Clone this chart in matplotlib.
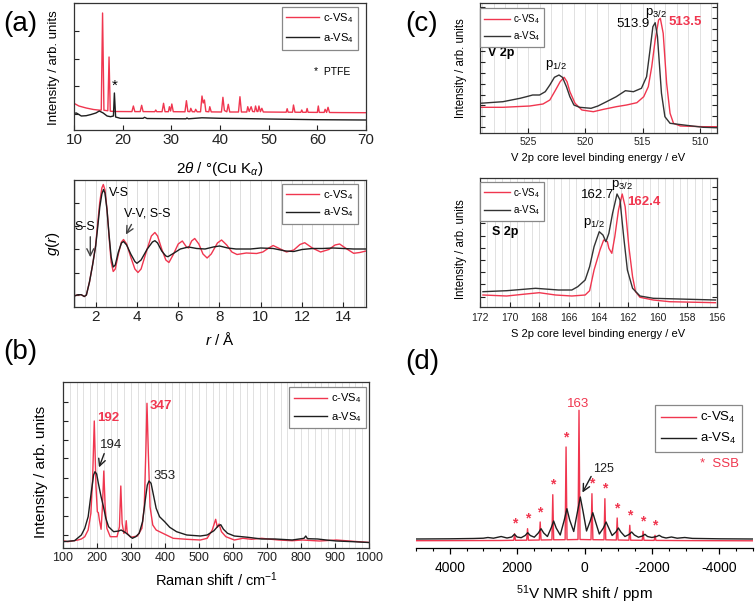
import matplotlib
matplotlib.use("Agg")
import matplotlib.pyplot as plt
import numpy as np

plt.rcParams['font.family'] = ['Liberation Sans', 'DejaVu Sans']
plt.rcParams['mathtext.fontset'] = 'custom'
plt.rcParams['mathtext.rm'] = 'Liberation Sans'
plt.rcParams['mathtext.it'] = 'Liberation Sans:italic'
plt.rcParams['mathtext.bf'] = 'Liberation Sans:bold'
plt.rcParams['axes.unicode_minus'] = False

RED = '#f0364f'
BLK = '#1e1e1e'
GRID = '#dcdcdc'
series_names = ['c-VS$_4$', 'a-VS$_4$']

# ---------------- (a) XRD ----------------
xrd_c_x = [10.0, 11.0, 12.5, 14.0, 15.3, 15.6, 15.87, 16.15, 16.95, 17.2, 17.45, 18.5, 21.9, 22.2, 22.5,
           23.6, 23.9, 24.2, 26.6, 26.8, 27.0, 28.1, 28.4, 28.7, 29.4, 29.6, 29.85, 30.1, 30.4, 32.8, 33.1,
           33.4, 33.8, 34.0, 34.3, 34.8, 35.0, 35.3, 36.0, 36.3, 36.55, 36.8, 37.1, 37.7, 37.9, 38.2, 40.3,
           40.6, 40.9, 41.4, 41.7, 42.0, 43.8, 44.1, 44.4, 45.5, 45.7, 46.0, 46.4, 46.7, 47.1, 47.3, 47.6,
           47.8, 48.0, 48.3, 48.6, 48.9, 53.6, 53.8, 54.0, 54.9, 55.1, 55.4, 56.6, 56.8, 57.0, 57.7, 57.9,
           58.1, 60.0, 60.2, 60.4, 61.4, 61.6, 61.9, 62.2, 62.5, 65.0, 70.0]
xrd_c_y = [26.7, 24.0, 22.0, 20.5, 19.8, 20.0, 117.0, 19.8, 19.2, 73.0, 18.8, 18.5, 18.4, 24.0, 18.4,
           18.4, 24.7, 18.4, 18.3, 20.0, 18.3, 18.3, 26.7, 18.3, 18.3, 23.3, 19.0, 26.0, 18.3, 18.2, 29.3,
           18.5, 18.3, 21.7, 18.3, 18.2, 20.7, 18.2, 18.2, 34.0, 27.0, 30.0, 18.5, 18.2, 23.3, 18.1, 18.0,
           32.7, 19.5, 18.2, 25.7, 18.0, 18.0, 33.3, 18.0, 18.0, 23.3, 18.5, 23.3, 18.5, 18.3, 24.0, 18.5,
           18.5, 24.0, 18.3, 21.7, 18.0, 17.8, 21.3, 17.8, 17.8, 25.0, 17.8, 17.7, 20.0, 17.7, 17.7, 21.5,
           17.7, 17.6, 24.0, 17.6, 17.6, 20.7, 17.6, 22.7, 17.5, 17.4, 17.3]
xrd_a_x = [10.0, 10.5, 11.5, 12.5, 13.5, 14.5, 15.2, 16.0, 16.8, 17.5, 18.1, 18.3, 18.55, 19.5, 24.2,
           24.5, 25.0, 30.0, 33.0, 33.2, 33.5, 36.3, 40.0, 44.0, 50.0, 60.0, 70.0]
xrd_a_y = [16.7, 17.0, 14.0, 14.3, 15.5, 17.0, 19.0, 17.0, 14.0, 13.3, 14.0, 37.0, 13.0, 11.7, 11.7,
           12.7, 11.5, 11.3, 11.2, 12.0, 11.2, 12.2, 11.7, 11.5, 11.0, 10.3, 10.0]
xrd_xticks = [10, 20, 30, 40, 50, 60, 70]

# ---------------- (a) PDF g(r) ----------------
gr_c_x = [1.0, 1.15, 1.3, 1.45, 1.55, 1.7, 1.85, 2.0, 2.1, 2.2, 2.3, 2.37, 2.45, 2.55, 2.65, 2.75, 2.85,
          2.95, 3.1, 3.25, 3.35, 3.5, 3.7, 3.9, 4.05, 4.2, 4.45, 4.7, 4.87, 5.0, 5.2, 5.4, 5.55, 5.75,
          6.0, 6.2, 6.4, 6.5, 6.65, 6.8, 7.0, 7.2, 7.4, 7.6, 7.9, 8.1, 8.35, 8.6, 8.85, 9.3, 9.8, 10.1,
          10.35, 10.6, 10.9, 11.25, 11.6, 11.9, 12.13, 12.5, 12.9, 13.3, 13.6, 13.82, 14.1, 14.5, 14.8, 15.1]
gr_c_y = [11.3, 12.3, 12.3, 10.5, 12.0, 25.0, 42.0, 62.0, 84.0, 105.0, 119.0, 122.5, 117.0, 98.0, 70.0,
          45.0, 35.5, 38.0, 53.0, 65.0, 67.5, 63.0, 50.0, 38.0, 34.5, 38.0, 55.0, 71.0, 74.5, 71.0, 58.0,
          47.0, 44.5, 52.0, 63.0, 66.0, 60.0, 59.0, 66.0, 68.5, 63.0, 53.0, 49.0, 53.0, 64.0, 67.0, 62.0,
          55.0, 52.5, 54.0, 53.5, 55.0, 58.5, 61.5, 58.5, 55.0, 57.0, 62.5, 64.3, 59.0, 55.0, 57.5, 62.0,
          63.0, 59.0, 53.7, 54.5, 56.0]
gr_a_x = [1.0, 1.15, 1.3, 1.45, 1.55, 1.7, 1.85, 2.0, 2.1, 2.2, 2.3, 2.38, 2.45, 2.55, 2.65, 2.75, 2.85,
          2.95, 3.1, 3.25, 3.35, 3.5, 3.7, 3.9, 4.0, 4.2, 4.5, 4.75, 4.87, 5.0, 5.2, 5.4, 5.5, 5.8, 6.1,
          6.5, 6.9, 7.3, 7.7, 8.0, 8.4, 8.8, 9.5, 10.0, 10.6, 11.2, 11.6, 12.0, 12.5, 13.0, 13.5, 14.0,
          14.5, 15.1]
gr_a_y = [11.3, 12.3, 12.3, 10.5, 12.0, 25.0, 42.0, 61.0, 80.0, 100.0, 113.0, 117.5, 114.0, 97.0, 72.0,
          50.0, 40.0, 42.0, 55.0, 64.0, 65.5, 62.0, 53.0, 45.5, 43.7, 47.0, 58.0, 65.0, 66.3, 64.0, 56.0,
          51.0, 50.3, 54.0, 58.0, 60.0, 58.5, 58.0, 60.0, 61.0, 59.0, 58.0, 58.0, 59.0, 58.5, 56.0, 55.5,
          57.5, 58.5, 58.5, 59.0, 58.5, 58.0, 58.0]
gr_xticks = [2, 4, 6, 8, 10, 12, 14]

# ---------------- (b) Raman ----------------
ram_c_x = [100, 114, 144, 154, 164, 174, 182, 187, 192, 197, 201, 204, 207, 212, 216, 220, 224, 229, 239,
           259, 266, 270, 274, 279, 283, 286, 289, 299, 319, 332, 339, 344, 347, 351, 356, 364, 374, 384,
           404, 424, 464, 504, 524, 539, 549, 554, 559, 566, 579, 604, 629, 654, 684, 704, 734, 774, 804,
           854, 904, 954, 1010]
ram_c_y = [7.3, 6.3, 8.0, 9.0, 11.3, 18.0, 34.7, 68.0, 127.0, 61.3, 36.3, 35.3, 28.0, 18.7, 41.3, 77.0,
           41.3, 19.7, 11.3, 11.3, 21.3, 62.0, 24.7, 14.7, 16.3, 27.3, 14.7, 10.7, 12.0, 19.7, 41.3, 101.3,
           144.7, 94.7, 41.3, 23.0, 18.0, 16.3, 13.0, 9.7, 8.7, 8.0, 9.7, 18.0, 28.7, 20.7, 24.0, 16.3, 11.3,
           8.0, 9.7, 8.7, 9.7, 9.0, 8.0, 7.3, 8.0, 7.0, 8.0, 6.7, 5.3]
ram_a_x = [100, 134, 154, 164, 174, 184, 190, 194, 199, 204, 212, 219, 226, 234, 249, 264, 271, 284, 296,
           304, 314, 324, 334, 342, 348, 353, 359, 366, 374, 384, 399, 414, 434, 464, 504, 524, 544, 556,
           564, 572, 584, 604, 644, 684, 724, 774, 809, 814, 819, 849, 874, 904, 954, 1010]
ram_a_y = [6.3, 7.3, 13.0, 19.7, 31.3, 58.0, 73.0, 76.3, 74.0, 64.7, 51.3, 41.3, 29.7, 21.3, 16.3, 17.0,
           18.0, 15.3, 12.0, 9.7, 11.3, 14.7, 26.3, 48.0, 63.0, 67.0, 64.7, 53.0, 39.7, 31.3, 26.3, 20.7,
           16.3, 13.0, 12.0, 13.0, 17.3, 22.0, 23.3, 18.7, 14.7, 12.0, 10.7, 9.0, 9.0, 8.0, 9.7, 12.0, 9.3,
           9.0, 8.0, 7.0, 6.3, 5.3]
ram_xticks = [100, 200, 300, 400, 500, 600, 700, 800, 900, 1000]

# ---------------- (c) XPS V 2p ----------------
v2p_c_x = [529.2, 527.2, 524.85, 523.7, 523.1, 522.6, 522.2, 521.85, 521.6, 521.35, 520.9, 520.3, 519.3,
           518.4, 517.3, 516.4, 515.5, 514.9, 514.5, 514.2, 513.9, 513.6, 513.45, 513.2, 512.9, 512.6,
           512.3, 511.7, 509.7, 508.5]
v2p_c_y = [25.7, 25.7, 27.0, 29.0, 33.0, 43.0, 51.3, 55.7, 51.3, 41.3, 29.7, 23.0, 21.3, 23.7, 26.3, 28.0,
           30.3, 36.3, 46.3, 66.3, 93.0, 113.0, 114.7, 99.7, 49.7, 19.7, 9.7, 7.0, 6.3, 6.3]
v2p_a_x = [529.2, 527.2, 525.7, 525.15, 524.6, 524.0, 523.5, 523.1, 522.7, 522.3, 522.0, 521.65, 521.35,
           521.0, 520.5, 519.5, 518.9, 518.15, 517.3, 516.5, 515.8, 515.1, 514.65, 514.35, 514.1, 513.9,
           513.7, 513.35, 513.05, 512.6, 511.4, 509.7, 508.5]
v2p_a_y = [29.7, 31.3, 34.7, 36.3, 38.0, 38.0, 41.3, 48.0, 55.7, 58.0, 55.7, 46.3, 36.3, 28.0, 25.7, 24.7,
           27.0, 31.3, 36.3, 42.3, 41.3, 44.7, 56.3, 83.0, 106.3, 110.3, 96.3, 39.7, 16.3, 9.7, 8.0, 5.7, 5.3]
v2p_xticks = [525, 520, 515, 510]

# ---------------- (c) XPS S 2p ----------------
s2p_c_x = [171.8, 170.2, 168.9, 168.0, 166.9, 165.8, 164.9, 164.6, 164.3, 163.9, 163.65, 163.4, 163.3,
           163.1, 162.9, 162.65, 162.4, 162.2, 161.95, 161.7, 161.5, 161.2, 160.3, 159.2, 156.1]
s2p_c_y = [12.0, 11.0, 13.0, 14.3, 12.0, 11.0, 12.0, 16.3, 37.0, 57.0, 67.0, 65.3, 58.7, 53.7, 70.3, 97.0,
           113.0, 100.3, 60.3, 30.3, 15.3, 9.7, 7.0, 5.3, 4.3]
s2p_a_x = [171.8, 170.2, 168.25, 166.7, 165.8, 165.4, 164.9, 164.6, 164.3, 163.95, 163.7, 163.5, 163.3,
           163.05, 162.75, 162.55, 162.3, 162.05, 161.7, 161.2, 160.3, 156.1]
s2p_a_y = [15.3, 16.3, 18.7, 17.0, 17.0, 20.3, 27.0, 40.3, 60.3, 75.3, 72.0, 65.3, 73.7, 93.7, 113.0, 107.0,
           70.3, 37.0, 18.7, 11.0, 8.7, 7.0]
s2p_xticks = [172, 170, 168, 166, 164, 162, 160, 158, 156]

# ---------------- (d) 51V NMR ----------------
nmr_c_x = [5000, 2500, 2100, 2074, 2048, 1716, 1690, 1664, 1341, 1315, 1289, 967, 941, 915, 575, 547, 519,
           193, 163, 133, -193, -221, -249, -579, -605, -631, -944, -970, -996, -1318, -1344, -1370, -1712,
           -1738, -1764, -2067, -2093, -2119, -3000, -5000]
nmr_c_y = [7.3, 7.5, 7.7, 14.3, 7.7, 7.8, 19.3, 7.8, 8.0, 26.0, 8.0, 8.2, 53.3, 8.2, 8.3, 101.0, 8.3, 8.5,
           137.7, 8.5, 8.3, 54.3, 8.3, 8.2, 49.3, 8.2, 8.0, 30.0, 8.0, 7.8, 22.7, 7.8, 7.7, 16.7, 7.7, 7.6,
           12.7, 7.6, 7.4, 7.2]
nmr_a_x = [5000, 4000, 3300, 3000, 2867, 2700, 2473, 2300, 2160, 2079, 2000, 1880, 1760, 1685, 1610, 1490,
           1370, 1290, 1210, 1100, 990, 916, 840, 720, 600, 522, 440, 320, 210, 125, 40, -60, -170, -246,
           -320, -440, -560, -640, -720, -820, -930, -1005, -1080, -1200, -1320, -1399, -1480, -1600,
           -1720, -1793, -1870, -2000, -2140, -2216, -2300, -2420, -2580, -2750, -2975, -3200, -4000, -5000]
nmr_a_y = [9.0, 9.2, 9.5, 9.8, 10.5, 9.8, 11.5, 10.0, 11.0, 13.7, 11.0, 10.3, 12.5, 15.3, 12.5, 10.8,
           15.0, 19.3, 15.0, 11.5, 20.0, 27.0, 20.0, 13.0, 28.0, 39.3, 28.0, 16.5, 36.0, 51.0, 36.0, 17.0,
           27.0, 35.3, 27.0, 14.0, 20.0, 26.0, 20.0, 12.5, 16.0, 20.0, 16.0, 11.5, 13.5, 16.0, 13.0, 10.8,
           12.0, 13.7, 11.5, 10.5, 11.5, 12.7, 11.0, 10.0, 11.0, 9.8, 10.5, 9.6, 9.2, 9.0]
ssb_x = [2074, 1690, 1315, 941, 547, -221, -605, -970, -1344, -1738, -2093]
ssb_y = [14.3, 19.3, 26.0, 53.3, 101.0, 54.3, 49.3, 30.0, 22.7, 16.7, 12.7]
nmr_xticks = [4000, 2000, 0, -2000, -4000]

# ---------------- figure ----------------
W, H = 756, 605
fig = plt.figure(figsize=(W / 100, H / 100), dpi=100)


def axpx(l, t, r, b):
    return fig.add_axes([l / W, 1 - b / H, (r - l) / W, (b - t) / H])


def style(ax, fs, pad):
    ax.tick_params(direction='in', length=3.5, width=0.8, labelsize=fs, pad=pad, colors='#222222')
    ax.tick_params(axis='y', labelleft=False)
    for s in ax.spines.values():
        s.set_linewidth(0.9)
        s.set_color('#333333')


def legend(ax, loc, anchor, fs, hl, ls=0.45):
    lg = ax.legend(loc=loc, bbox_to_anchor=anchor, borderaxespad=0, fontsize=fs, handlelength=hl,
                   fancybox=False, framealpha=1, edgecolor='#888888', borderpad=0.4,
                   labelspacing=ls, handletextpad=0.3)
    lg.get_frame().set_linewidth(0.9)
    return lg


arrow = dict(arrowstyle='->,head_length=0.5,head_width=0.25', color='#444444', lw=1.0)

# (a) top
ax1 = axpx(74, 3, 366, 130)
ax1.plot(xrd_c_x, xrd_c_y, color=RED, lw=1.0, label=series_names[0])
ax1.plot(xrd_a_x, xrd_a_y, color=BLK, lw=1.0, label=series_names[1])
ax1.set_xlim(10, 70)
ax1.set_ylim(0, 127)
ax1.set_xticks(xrd_xticks)
ax1.set_yticks(np.arange(16, 127, 27.7))
style(ax1, 11, 2)
ax1.text(18.3, 37.5, '*', ha='center', va='bottom', fontsize=11)
ax1.text(59.3, 58, '*  PTFE', ha='left', va='center', fontsize=7.5)
legend(ax1, 'upper right', (0.973, 0.969), 8, 3.0, 0.55)
ax1.set_xlabel(r'2$\theta$ / °(Cu K$_\alpha$)', fontsize=11, va='top')
ax1.xaxis.set_label_coords(0.5, -0.236)
ax1.set_ylabel('Intensity / arb. units', fontsize=9.5)
ax1.yaxis.set_label_coords(-0.048, 0.49)

# (a) bottom
ax2 = axpx(74, 180, 366, 307)
for gx in np.arange(1.0, 15.1, 0.5):
    ax2.axvline(gx, color=GRID, lw=0.7, zorder=0)
ax2.plot(gr_c_x, gr_c_y, color=RED, lw=1.0, label=series_names[0])
ax2.plot(gr_a_x, gr_a_y, color=BLK, lw=1.0, label=series_names[1])
ax2.set_xlim(0.95, 15.1)
ax2.set_ylim(0, 127)
ax2.set_xticks(gr_xticks)
ax2.set_yticks([11.7, 34.3, 57.7, 81.0, 104.3])
style(ax2, 11, 2)
ax2.text(1.48, 80, 'S-S', fontsize=9, ha='center', va='center')
ax2.annotate('', xy=(1.74, 47), xytext=(1.74, 73), arrowprops=arrow)
ax2.text(2.62, 114, 'V-S', fontsize=9, ha='left', va='center')
ax2.text(3.37, 94, 'V-V, S-S', fontsize=9, ha='left', va='center')
ax2.annotate('', xy=(3.4, 70), xytext=(3.8, 85), arrowprops=arrow)
legend(ax2, 'upper right', (0.973, 0.969), 8, 3.0, 0.3)
ax2.set_xlabel(r'$r$ / Å', fontsize=11, va='top')
ax2.xaxis.set_label_coords(0.5, -0.19)
ax2.set_ylabel(r'$g$($r$)', fontsize=11)
ax2.yaxis.set_label_coords(-0.041, 0.5)

# (b) Raman
ax3 = axpx(63, 382, 369, 548)
for gx in np.arange(100, 1001, 20):
    ax3.axvline(gx, color=GRID, lw=0.6, zorder=0)
ax3.plot(ram_c_x, ram_c_y, color=RED, lw=1.0, label=series_names[0])
ax3.plot(ram_a_x, ram_a_y, color=BLK, lw=1.0, label=series_names[1])
ax3.set_xlim(100, 1000)
ax3.set_ylim(0, 166)
ax3.set_xticks(ram_xticks)
ax3.set_yticks([13, 32, 51, 70, 90, 108, 127, 146])
style(ax3, 9, 3)
ax3.text(199, 130, '192', color=RED, fontsize=9.5, fontweight='bold', ha='left', va='center')
ax3.text(354, 142, '347', color=RED, fontsize=9.5, fontweight='bold', ha='left', va='center')
ax3.text(209, 103, '194', color=BLK, fontsize=9.5, ha='left', va='center')
ax3.annotate('', xy=(203, 78), xytext=(224, 97), arrowprops=dict(arrowstyle='->,head_length=0.5,head_width=0.25', color=BLK, lw=1.0))
ax3.text(366, 72, '353', color=BLK, fontsize=9.5, ha='left', va='center')
legend(ax3, 'upper right', (0.99, 0.97), 8, 3.0, 0.45)
ax3.set_xlabel('Raman shift / cm$^{-1}$', fontsize=10.5, va='top')
ax3.xaxis.set_label_coords(0.5, -0.133)
ax3.set_ylabel('Intensity / arb. units', fontsize=11)
ax3.yaxis.set_label_coords(-0.049, 0.46)

# (c) top V 2p
ax4 = axpx(480, 3, 717, 133)
for gx in np.arange(509, 530, 1.0):
    ax4.axvline(gx, color=GRID, lw=0.6, zorder=0)
ax4.plot(v2p_c_x, v2p_c_y, color=RED, lw=1.0, label=series_names[0])
ax4.plot(v2p_a_x, v2p_a_y, color='#333333', lw=1.0, label=series_names[1])
ax4.set_xlim(529.2, 508.5)
ax4.set_ylim(0, 130)
ax4.set_xticks(v2p_xticks)
ax4.set_yticks(np.arange(5.8, 127, 10.9))
style(ax4, 7.5, 3)
ax4.tick_params(axis='y', right=True)
ax4.text(522.6, 68, 'p$_{1/2}$', fontsize=9.5, ha='center', va='center')
ax4.text(513.8, 120, 'p$_{3/2}$', fontsize=9.5, ha='center', va='center')
ax4.text(514.4, 109, '513.9', fontsize=9.5, ha='right', va='center')
ax4.text(512.75, 111, '513.5', color=RED, fontsize=9.5, fontweight='bold', ha='left', va='center')
ax4.text(528.5, 80, 'V 2p', fontsize=9, fontweight='bold', ha='left', va='center')
legend(ax4, 'upper left', (0.0, 0.96), 7, 2.7, 0.35)
ax4.set_xlabel('V 2p core level binding energy / eV', fontsize=8, va='top')
ax4.xaxis.set_label_coords(0.5, -0.154)
ax4.set_ylabel('Intensity / arb. units', fontsize=8.3)
ax4.yaxis.set_label_coords(-0.055, 0.5)

# (c) bottom S 2p
ax5 = axpx(480, 178, 717, 307)
for gx in np.arange(156, 172.01, 0.5):
    ax5.axvline(gx, color=GRID, lw=0.6, zorder=0)
ax5.plot(s2p_c_x, s2p_c_y, color=RED, lw=1.0, label=series_names[0])
ax5.plot(s2p_a_x, s2p_a_y, color='#333333', lw=1.0, label=series_names[1])
ax5.set_xlim(171.8, 156.1)
ax5.set_ylim(0, 129)
ax5.set_xticks(s2p_xticks)
ax5.set_yticks(np.arange(10.5, 121, 12.2))
style(ax5, 7.5, 4)
ax5.tick_params(axis='y', right=True)
ax5.text(164.3, 84, 'p$_{1/2}$', fontsize=9.5, ha='center', va='center')
ax5.text(162.4, 122, 'p$_{3/2}$', fontsize=9.5, ha='center', va='center')
ax5.text(162.95, 112, '162.7', fontsize=9.5, ha='right', va='center')
ax5.text(162.07, 105, '162.4', color=RED, fontsize=9.5, fontweight='bold', ha='left', va='center')
ax5.text(171.2, 75, 'S 2p', fontsize=9, fontweight='bold', ha='left', va='center')
legend(ax5, 'upper left', (0.0, 0.97), 7, 2.7, 0.35)
ax5.set_xlabel('S 2p core level binding energy / eV', fontsize=8, va='top')
ax5.xaxis.set_label_coords(0.5, -0.17)
ax5.set_ylabel('Intensity / arb. units', fontsize=8.3)
ax5.yaxis.set_label_coords(-0.055, 0.45)

# (d) NMR
ax6 = axpx(416, 400, 753, 548)
ax6.plot(nmr_c_x, nmr_c_y, color=RED, lw=1.0, label=series_names[0])
ax6.plot(nmr_a_x, nmr_a_y, color=BLK, lw=1.0, label=series_names[1])
for sx, sy in zip(ssb_x, ssb_y):
    ax6.text(sx, sy + 3, '*', color=RED, fontsize=10, fontweight='bold', ha='center', va='bottom')
ax6.set_xlim(5000, -5000)
ax6.set_ylim(0, 148)
for s in ['top', 'left', 'right']:
    ax6.spines[s].set_visible(False)
ax6.spines['bottom'].set_linewidth(0.9)
ax6.set_xticks(nmr_xticks)
ax6.set_xticks(np.arange(-5000, 5001, 500), minor=True)
ax6.set_yticks([])
ax6.tick_params(axis='x', which='major', direction='out', length=4, width=0.9, labelsize=10, pad=5)
ax6.tick_params(axis='x', which='minor', direction='out', length=2.5, width=0.8)
ax6.text(200, 144, '163', color=RED, fontsize=9.5, ha='center', va='center')
ax6.text(-266, 79, '125', color=BLK, fontsize=9, ha='left', va='center')
ax6.annotate('', xy=(100, 53), xytext=(-236, 74), arrowprops=dict(arrowstyle='->,head_length=0.5,head_width=0.25', color=BLK, lw=1.0))
legend(ax6, 'upper right', (0.967, 0.966), 9.5, 2.7, 0.45)
ax6.text(-3427, 84, '*  SSB', color=RED, fontsize=9.5, ha='left', va='center')
ax6.set_xlabel('$^{51}$V NMR shift / ppm', fontsize=11, va='top')
ax6.xaxis.set_label_coords(0.5, -0.236)

# panel labels
fig.text(20 / W, 1 - 24 / H, '(a)', fontsize=20, ha='center', va='center')
fig.text(20 / W, 1 - 352 / H, '(b)', fontsize=20, ha='center', va='center')
fig.text(422 / W, 1 - 24 / H, '(c)', fontsize=20, ha='center', va='center')
fig.text(422 / W, 1 - 362 / H, '(d)', fontsize=20, ha='center', va='center')

fig.savefig('out.png', dpi=100)
